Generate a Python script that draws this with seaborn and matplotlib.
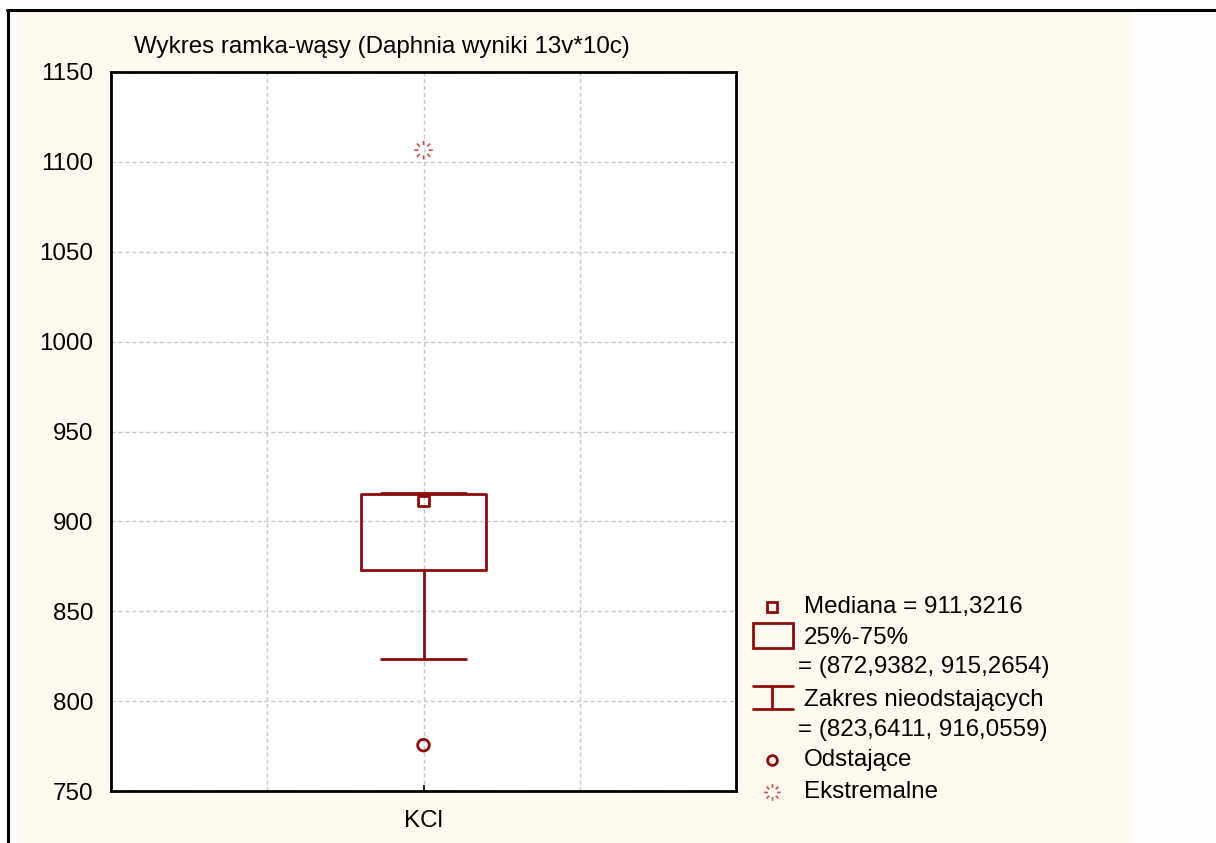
import matplotlib
matplotlib.use("Agg")
import matplotlib.pyplot as plt
import matplotlib.patches as mpatches
from matplotlib.lines import Line2D
from matplotlib.path import Path
from matplotlib.markers import MarkerStyle
import numpy as np
import pandas as pd
import seaborn as sns

# Summary statistics for the KCl group
groups = ["KCl"]
medians = [911.3216]
q1_values = [872.9382]
q3_values = [915.2654]
nonoutlier_low = [823.6411]
nonoutlier_high = [916.0559]
outlier_values = [775.5]
extreme_values = [1106.5]
y_ticks = [750, 800, 850, 900, 950, 1000, 1050, 1100, 1150]

title_text = "Wykres ramka-wąsy (Daphnia wyniki 13v*10c)"
legend_labels = [
    "Mediana = 911,3216",
    "25%-75%",
    "= (872,9382, 915,2654)",
    "Zakres nieodstających",
    "= (823,6411, 916,0559)",
    "Odstające",
    "Ekstremalne",
]

DARK_RED = "#8b0d0d"
BURST_RED = "#c85050"
CREAM = "#fef9ee"
FS = 17.4

sns.set_theme(style="whitegrid")
plt.rcParams["font.family"] = ["Liberation Sans", "DejaVu Sans"]

W, H = 1216, 843
fig = plt.figure(figsize=(W / 100, H / 100), dpi=100, facecolor="#fdfdfd")


def fx(px):
    return px / W


def fy(py):
    return 1 - py / H


# Cream panel and black frame lines
fig.patches.append(mpatches.Rectangle((fx(17), 0), fx(1133 - 17), fy(12), transform=fig.transFigure,
                                      facecolor=CREAM, edgecolor="none", zorder=-5))
fig.lines.append(Line2D([fx(7), 1], [fy(10), fy(10)], transform=fig.transFigure, color="black", lw=2.2))
fig.lines.append(Line2D([fx(8), fx(8)], [fy(10), 0], transform=fig.transFigure, color="black", lw=2.2))

ax = fig.add_axes([fx(111), fy(791), fx(736 - 111), fy(72) - fy(791)])
ax.set_facecolor("white")

# Box with the non-outlier range as whiskers
stats = [dict(med=m, q1=a, q3=b, whislo=lo, whishi=hi, fliers=[], label=g)
         for g, m, a, b, lo, hi in zip(groups, medians, q1_values, q3_values, nonoutlier_low, nonoutlier_high)]
ax.bxp(stats, positions=[0], widths=0.8, capwidths=0.54, showfliers=False,
       boxprops=dict(color=DARK_RED, linewidth=2.0),
       whiskerprops=dict(color=DARK_RED, linewidth=2.0),
       capprops=dict(color=DARK_RED, linewidth=2.0),
       medianprops=dict(linewidth=0), zorder=3)

# Burst-shaped marker for extreme values
burst_verts, burst_codes = [], []
for ang in np.linspace(0, 2 * np.pi, 8, endpoint=False):
    c, s = np.cos(ang), np.sin(ang)
    burst_verts += [(0.55 * c, 0.55 * s), (1.0 * c, 1.0 * s)]
    burst_codes += [Path.MOVETO, Path.LINETO]
burst = MarkerStyle(Path(burst_verts, burst_codes))

pos = list(range(len(groups)))
sns.scatterplot(x=pos, y=medians, ax=ax, marker="s", s=62, facecolor="none",
                edgecolor=DARK_RED, linewidth=2.0, zorder=4)
sns.scatterplot(x=pos, y=outlier_values, ax=ax, marker="o", s=70, facecolor="none",
                edgecolor=DARK_RED, linewidth=2.0, zorder=4)
sns.scatterplot(x=pos, y=extreme_values, ax=ax, marker=burst, s=180, facecolor="none",
                edgecolor=BURST_RED, linewidth=1.2, zorder=4)

ax.set_xlim(-2, 2)
ax.set_ylim(750, 1150)
ax.set_yticks(y_ticks)
ax.set_xticks(pos)
ax.set_xticklabels(groups)
ax.xaxis.set_minor_locator(matplotlib.ticker.FixedLocator([-1, 1]))
ax.grid(True, which="both", axis="x", color="#c8c8c8", linestyle=(0, (3, 2)), linewidth=1.0)
ax.grid(True, which="major", axis="y", color="#c8c8c8", linestyle=(0, (3, 2)), linewidth=1.0)
ax.tick_params(axis="both", which="major", direction="in", length=4, width=1.2, colors="black",
               labelsize=FS, bottom=True, left=False)
ax.tick_params(axis="y", which="major", pad=13)
ax.tick_params(axis="x", which="major", pad=14)
ax.tick_params(axis="x", which="minor", length=0)
for sp in ax.spines.values():
    sp.set_color("black")
    sp.set_linewidth(2.0)
ax.set_xlabel("")
ax.set_ylabel("")

fig.text(fx(134), fy(47), title_text, fontsize=FS, va="center", ha="left", color="black")

# Legend drawn beside the axes
legend_rows = [607, 638, 667, 700, 730, 760, 792]
text_x = [804, 804, 798, 804, 798, 804, 804]
for lbl, yy, xx in zip(legend_labels, legend_rows, text_x):
    fig.text(fx(xx), fy(yy), lbl, fontsize=FS, va="center", ha="left", color="black")

fig.lines.append(Line2D([fx(772)], [fy(607)], transform=fig.transFigure, marker="s", markersize=7,
                        markerfacecolor="none", markeredgecolor=DARK_RED, markeredgewidth=2.0))
fig.patches.append(mpatches.Rectangle((fx(753), fy(648)), fx(40), fy(623) - fy(648), transform=fig.transFigure,
                                      facecolor="none", edgecolor=DARK_RED, linewidth=2.0))
for yy in (686, 709):
    fig.lines.append(Line2D([fx(753), fx(793)], [fy(yy), fy(yy)], transform=fig.transFigure,
                            color=DARK_RED, lw=2.0))
fig.lines.append(Line2D([fx(772), fx(772)], [fy(686), fy(709)], transform=fig.transFigure,
                        color=DARK_RED, lw=2.0))
fig.lines.append(Line2D([fx(772)], [fy(760)], transform=fig.transFigure, marker="o", markersize=7,
                        markerfacecolor="none", markeredgecolor=DARK_RED, markeredgewidth=2.0))
fig.lines.append(Line2D([fx(772)], [fy(792)], transform=fig.transFigure, marker=burst, markersize=12,
                        markerfacecolor="none", markeredgecolor=BURST_RED, markeredgewidth=1.2))

fig.savefig("out.png", dpi=100, facecolor=fig.get_facecolor())
